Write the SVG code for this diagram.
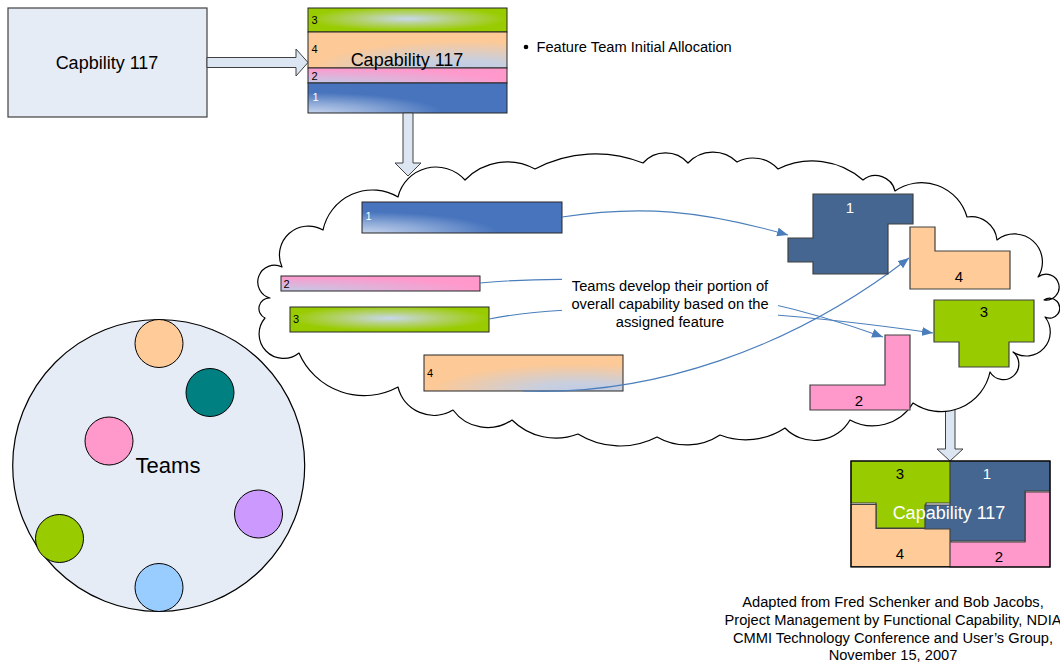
<svg xmlns="http://www.w3.org/2000/svg" xmlns:xlink="http://www.w3.org/1999/xlink" width="1060" height="665" viewBox="0 0 1060 665">
  <style>
    text { font-family: "Liberation Sans", Arial, sans-serif; fill: #000; }
    .big { font-size: 18px; text-anchor: middle; }
    .note { font-size: 14.67px; text-anchor: middle; }
    .tag { font-size: 11px; }
    .num { font-size: 15px; text-anchor: middle; }
    .white { fill: #fff; }
    .bar { stroke: #262626; stroke-width: 1; }
    .block { fill: #dce6f2; stroke: #404040; stroke-width: 1; }
    .piece { stroke: #404040; stroke-width: 1.2; }
    .c1 { fill: #456690; }
    .c2 { fill: #ff99cc; }
    .c3 { fill: #99cc00; }
    .c4 { fill: #ffcc99; }
    .link { fill: none; stroke: #4a7ebb; stroke-width: 1.1; marker-end: url(#tip); }
    .team { stroke: #000; stroke-width: 1; }
  </style>
  <defs>
    <marker id="tip" markerUnits="userSpaceOnUse" markerWidth="11" markerHeight="9" refX="11" refY="4.5" orient="auto">
      <path d="M0,0 L11,4.5 L0,9 Z" fill="#4a7ebb"/>
    </marker>
    <radialGradient id="gBlue" cx="0" cy="1" r="0.8" fx="0" fy="1">
      <stop offset="0" stop-color="#c5d4ec"/>
      <stop offset="0.4" stop-color="#8eaad8"/>
      <stop offset="0.85" stop-color="#4774bd"/>
      <stop offset="1" stop-color="#4774bd"/>
    </radialGradient>
    <radialGradient id="gPink" cx="0" cy="1" r="1" fx="0" fy="1">
      <stop offset="0" stop-color="#c3c9e6"/>
      <stop offset="1" stop-color="#ff99cc"/>
    </radialGradient>
    <radialGradient id="gGreen" cx="0.5" cy="0.45" r="0.5">
      <stop offset="0" stop-color="#c8d8ee"/>
      <stop offset="0.5" stop-color="#b3d170"/>
      <stop offset="1" stop-color="#99cc00"/>
    </radialGradient>
    <radialGradient id="gPeach" cx="0.78" cy="1" r="0.75" fx="0.78" fy="1">
      <stop offset="0" stop-color="#bfcbe4"/>
      <stop offset="0.3" stop-color="#c8cfdf"/>
      <stop offset="1" stop-color="#fdc996"/>
    </radialGradient>
    <!-- puzzle piece outlines, origin at each piece's top-left corner -->
    <path id="shape1" d="M0,0 H100 V30 H75 V80 H0 V68 H-25 V44 H0 Z"/>
    <path id="shape2" d="M75,0 H100 V75 H0 V50 H75 Z"/>
    <path id="shape3" d="M0,0 H100 V42 H75 V67 H25 V42 H0 Z"/>
    <path id="shape4" d="M0,0 H25 V24 H100 V62 H0 Z"/>
  </defs>

  <!-- source capability -->
  <g id="capability-source">
    <rect x="8" y="8" width="199" height="109" fill="#e6ecf6" stroke="#404040" stroke-width="1.2"/>
    <text class="big" x="107" y="68.5">Capbility 117</text>
  </g>

  <!-- block arrow to the allocated stack -->
  <g id="arrow-right">
    <polygon class="block" points="207,57.5 296,57.5 296,49 308,62.5 296,76 296,67.5 207,67.5"/>
  </g>

  <!-- allocated feature stack -->
  <g id="capability-stack">
    <rect class="bar" x="308" y="8" width="199" height="24" fill="url(#gGreen)"/>
    <rect class="bar" x="308" y="32" width="199" height="36" fill="url(#gPeach)"/>
    <rect class="bar" x="308" y="68" width="199" height="15" fill="url(#gPink)"/>
    <rect class="bar" x="308" y="83" width="199" height="30" fill="url(#gBlue)"/>
    <text class="tag" x="311.5" y="24">3</text>
    <text class="tag" x="311.5" y="53">4</text>
    <text class="tag" x="311.5" y="80">2</text>
    <text class="tag white" x="312.5" y="101">1</text>
    <text class="big" x="407" y="66">Capability 117</text>
  </g>

  <!-- bullet note -->
  <g id="allocation-note">
    <circle cx="526" cy="47" r="2.3" fill="#000"/>
    <text x="536.5" y="52" style="font-size:14.67px">Feature Team Initial Allocation</text>
  </g>

  <!-- block arrow from the cloud to the assembled capability (drawn under the cloud) -->
  <g id="arrow-down-result">
    <polygon class="block" points="945.5,398 955,398 955,449 963,449 950,461 937,449 945.5,449"/>
  </g>

  <!-- development cloud -->
  <g id="cloud">
    <path fill="#fff" stroke="#000" stroke-width="1.2" stroke-linejoin="round" d="M398,197
      A39,39 0 0 1 465,180
      A58,58 0 0 1 535,169
      A128,128 0 0 1 643,163
      A30,30 0 0 1 688,163
      A34,34 0 0 1 737,162
      A34,34 0 0 1 778,169
      A77,77 0 0 1 863,180
      A20,20 0 0 1 895,191
      A47,47 0 0 1 967,217
      A26,26 0 0 1 997,240
      A28,28 0 0 1 1038,277
      A13,13 0 1 1 1044,300
      A10,10 0 1 1 1045,317
      A24,24 0 0 1 1013,352
      A15.5,15.5 0 1 1 990,372
      A50,50 0 0 1 913,403
      A47,47 0 0 1 850,420
      A41,41 0 0 1 785,428
      A71,71 0 0 1 720,435
      A60,60 0 0 1 657,437
      A80,80 0 0 1 578,434
      A62,62 0 0 1 512,420
      A43,43 0 0 1 453,410
      A37,37 0 0 1 398,387
      A71,71 0 0 1 299,353
      A24.5,24.5 0 0 1 265,318
      A10.5,10.5 0 0 1 270,298
      A16.7,16.7 0 1 1 282,267
      A29,29 0 0 1 323,230
      A50.5,50.5 0 0 1 398,197 Z"/>
  </g>

  <!-- block arrow from the stack into the cloud -->
  <g id="arrow-down-cloud">
    <polygon class="block" points="403,113 413,113 413,163 421,163 408,176 395,163 403,163"/>
  </g>

  <!-- feature bars handed to the teams -->
  <g id="feature-1">
    <rect class="bar" x="362" y="202" width="200" height="31" fill="url(#gBlue)"/>
    <text class="tag white" x="365.5" y="220">1</text>
  </g>
  <g id="feature-2">
    <rect class="bar" x="281" y="276" width="199" height="15" fill="url(#gPink)"/>
    <text class="tag" x="283.5" y="288">2</text>
  </g>
  <g id="feature-3">
    <rect class="bar" x="290" y="307" width="199" height="25" fill="url(#gGreen)"/>
    <text class="tag" x="293" y="323">3</text>
  </g>
  <g id="feature-4">
    <rect class="bar" x="424" y="355" width="199" height="36" fill="url(#gPeach)"/>
    <text class="tag" x="427" y="376.5">4</text>
  </g>

  <!-- connectors -->
  <g id="connectors">
    <path class="link" d="M562,217 C640,205 700,210 788,235"/>
    <path class="link" d="M480,283 C600,272 740,285 883,337"/>
    <path class="link" d="M489,319 C560,305 700,300 933,333"/>
    <path class="link" d="M523,391 C650,396 790,350 909,258"/>
  </g>

  <!-- explanation label (opaque box over the connectors) -->
  <g id="explanation">
    <rect x="562" y="269" width="216" height="64" fill="#fff"/>
    <text class="note" x="670" y="291">Teams develop their portion of</text>
    <text class="note" x="670" y="308.5">overall capability based on the</text>
    <text class="note" x="670" y="326.5">assigned feature</text>
  </g>

  <!-- developed pieces -->
  <g id="piece-1">
    <use xlink:href="#shape1" href="#shape1" class="piece c1" x="813" y="194"/>
    <text class="num white" x="850" y="212.5">1</text>
  </g>
  <g id="piece-4">
    <use xlink:href="#shape4" href="#shape4" class="piece c4" x="910" y="227"/>
    <text class="num" x="959" y="281.5">4</text>
  </g>
  <g id="piece-3">
    <use xlink:href="#shape3" href="#shape3" class="piece c3" x="934" y="300"/>
    <text class="num" x="984" y="317">3</text>
  </g>
  <g id="piece-2">
    <use xlink:href="#shape2" href="#shape2" class="piece c2" x="810" y="335"/>
    <text class="num" x="859" y="405.5">2</text>
  </g>

  <!-- assembled capability -->
  <g id="capability-result">
    <use xlink:href="#shape3" href="#shape3" class="piece c3" x="851" y="461"/>
    <use xlink:href="#shape4" href="#shape4" class="piece c4" x="851" y="504.5"/>
    <use xlink:href="#shape2" href="#shape2" class="piece c2" x="950" y="492"/>
    <use xlink:href="#shape1" href="#shape1" class="piece c1" x="950" y="461"/>
    <rect x="851" y="461" width="199" height="106" fill="none" stroke="#000" stroke-width="1.2"/>
    <text class="num" x="900" y="479">3</text>
    <text class="num white" x="987" y="479">1</text>
    <text class="num" x="900" y="559">4</text>
    <text class="num" x="999" y="562">2</text>
    <text class="big white" x="949" y="519">Capability 117</text>
  </g>

  <!-- teams pool -->
  <g id="teams">
    <circle cx="158.7" cy="465.5" r="146" fill="#e6ecf6" stroke="#000" stroke-width="1.2"/>
    <circle class="team" cx="159" cy="343.5" r="24" fill="#ffcc99"/>
    <circle class="team" cx="210" cy="392.5" r="24" fill="#008080"/>
    <circle class="team" cx="109" cy="441" r="24" fill="#ff99cc"/>
    <circle class="team" cx="258.5" cy="514" r="24" fill="#cc99ff"/>
    <circle class="team" cx="59.5" cy="538.5" r="24" fill="#99cc00"/>
    <circle class="team" cx="159" cy="587.5" r="24" fill="#99ccff"/>
    <text x="168" y="472.5" style="font-size:22px;text-anchor:middle">Teams</text>
  </g>

  <!-- source credit -->
  <g id="credit">
    <text class="note" x="893" y="607">Adapted from Fred Schenker and Bob Jacobs,</text>
    <text class="note" x="893" y="624.5">Project Management by Functional Capability, NDIA</text>
    <text class="note" x="893" y="642.5">CMMI Technology Conference and User’s Group,</text>
    <text class="note" x="893" y="660">November 15, 2007</text>
  </g>
</svg>
